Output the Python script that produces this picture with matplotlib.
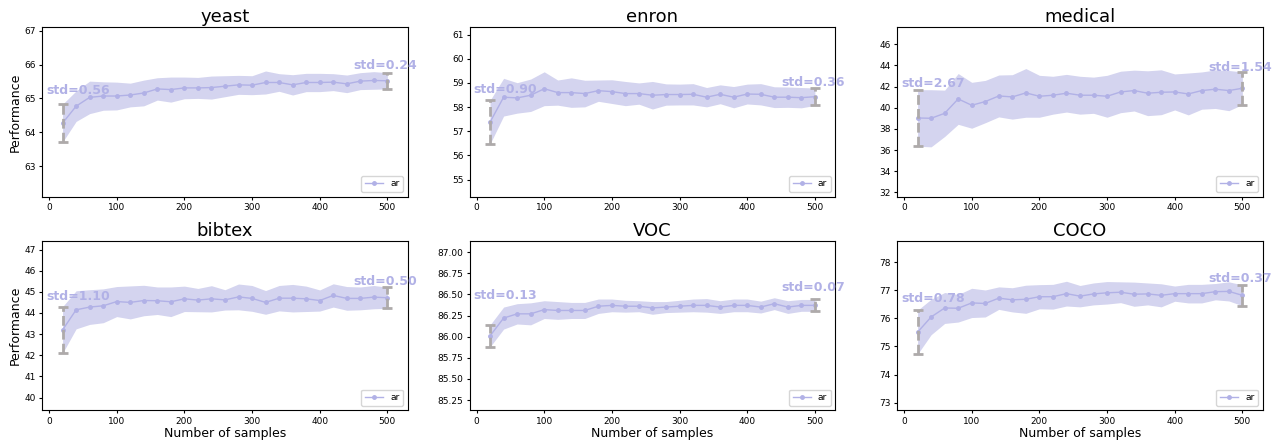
import numpy as np
import matplotlib
matplotlib.use("Agg")
import matplotlib.pyplot as plt

sample_sizes = [20, 40, 60, 80, 100, 120, 140, 160, 180, 200, 220, 240, 260,
                280, 300, 320, 340, 360, 380, 400, 420, 440, 460, 480, 500]

datasets = ["yeast", "enron", "medical", "bibtex", "VOC", "COCO"]

yeast_mean = [64.27, 64.77, 65.03, 65.07, 65.07, 65.10, 65.16, 65.28, 65.26, 65.31,
              65.31, 65.32, 65.36, 65.40, 65.39, 65.47, 65.47, 65.40, 65.47, 65.47,
              65.48, 65.43, 65.51, 65.53, 65.52]
yeast_std = [0.56, 0.45, 0.48, 0.42, 0.41, 0.35, 0.38, 0.33, 0.37, 0.32,
             0.31, 0.34, 0.31, 0.28, 0.28, 0.34, 0.26, 0.30, 0.27, 0.27,
             0.25, 0.26, 0.25, 0.26, 0.24]

enron_mean = [57.38, 58.41, 58.38, 58.49, 58.76, 58.60, 58.60, 58.56, 58.68, 58.64,
              58.56, 58.56, 58.49, 58.52, 58.52, 58.53, 58.41, 58.53, 58.41, 58.54,
              58.53, 58.41, 58.41, 58.39, 58.43]
enron_std = [0.90, 0.78, 0.63, 0.67, 0.70, 0.52, 0.61, 0.55, 0.44, 0.49,
             0.50, 0.44, 0.57, 0.44, 0.43, 0.44, 0.40, 0.39, 0.44, 0.41,
             0.44, 0.43, 0.42, 0.42, 0.36]

medical_mean = [39.03, 39.00, 39.47, 40.83, 40.23, 40.58, 41.11, 41.02, 41.40, 41.08,
                41.18, 41.37, 41.18, 41.18, 41.08, 41.49, 41.62, 41.37, 41.46, 41.49,
                41.30, 41.62, 41.75, 41.62, 41.84]
medical_std = [2.67, 2.70, 2.19, 2.40, 2.17, 2.00, 1.98, 2.10, 2.30, 1.98,
               1.79, 1.78, 1.79, 1.71, 1.98, 1.96, 1.93, 2.12, 2.12, 1.70,
               1.98, 1.76, 1.82, 1.90, 1.54]

bibtex_mean = [43.20, 44.15, 44.28, 44.34, 44.54, 44.50, 44.59, 44.58, 44.53, 44.67,
               44.61, 44.67, 44.62, 44.76, 44.69, 44.50, 44.70, 44.70, 44.67, 44.59,
               44.83, 44.69, 44.69, 44.75, 44.72]
bibtex_std = [1.10, 0.90, 0.82, 0.80, 0.71, 0.78, 0.72, 0.65, 0.70, 0.60,
              0.55, 0.62, 0.48, 0.61, 0.61, 0.56, 0.60, 0.65, 0.60, 0.50,
              0.55, 0.56, 0.54, 0.55, 0.50]

voc_mean = [86.01, 86.22, 86.27, 86.27, 86.32, 86.31, 86.31, 86.31, 86.36, 86.37,
            86.36, 86.36, 86.34, 86.35, 86.36, 86.37, 86.37, 86.35, 86.37, 86.37,
            86.35, 86.39, 86.35, 86.37, 86.37]
voc_std = [0.13, 0.13, 0.12, 0.13, 0.105, 0.105, 0.095, 0.095, 0.085, 0.075,
           0.07, 0.065, 0.075, 0.065, 0.07, 0.075, 0.08, 0.075, 0.075, 0.075,
           0.07, 0.07, 0.075, 0.07, 0.07]

coco_mean = [75.51, 76.05, 76.37, 76.36, 76.55, 76.53, 76.72, 76.66, 76.68, 76.77,
             76.77, 76.88, 76.79, 76.87, 76.91, 76.93, 76.86, 76.87, 76.82, 76.88,
             76.88, 76.88, 76.95, 76.96, 76.82]
coco_std = [0.78, 0.63, 0.55, 0.49, 0.52, 0.48, 0.40, 0.43, 0.50, 0.43,
            0.44, 0.44, 0.38, 0.39, 0.40, 0.37, 0.43, 0.39, 0.41, 0.27,
            0.33, 0.33, 0.29, 0.34, 0.37]

ylims = [(62.1, 67.1), (54.3, 61.3), (31.6, 47.6), (39.4, 47.4), (85.13, 87.13), (72.73, 78.75)]

means = [yeast_mean, enron_mean, medical_mean, bibtex_mean, voc_mean, coco_mean]
stds = [yeast_std, enron_std, medical_std, bibtex_std, voc_std, coco_std]

line_color = "#b1b1e6"
fill_color = "#d4d4ef"
err_color = "#aeaaaa"

fig, axes = plt.subplots(2, 3, figsize=(12.81, 4.42), dpi=100)
fig.subplots_adjust(left=0.033, right=0.9857, bottom=0.0717, top=0.9382,
                    wspace=0.170, hspace=0.263)

x = np.array(sample_sizes)
for i, ax in enumerate(axes.flat):
    m = np.array(means[i])
    s = np.array(stds[i])
    ax.fill_between(x, m - s, m + s, color=fill_color, lw=0, zorder=1)
    ax.plot(x, m, color=line_color, lw=1.0, marker="o", markersize=2.5,
            label="ar", zorder=3)
    for idx in (0, -1):
        eb = ax.errorbar([x[idx]], [m[idx]], yerr=[s[idx]], fmt="none",
                         ecolor=err_color, elinewidth=2, capsize=3.5,
                         capthick=2, zorder=4)
        eb[2][0].set_linestyle((0, (3.5, 1.5)))
    ax.text(-4, m[0] + s[0] + 0.3, f"std={s[0]:.2f}", color=line_color,
            fontsize=9, fontweight="bold", ha="left", va="baseline", zorder=5)
    ax.text(450, m[-1] + s[-1] + 0.1, f"std={s[-1]:.2f}", color=line_color,
            fontsize=9, fontweight="bold", ha="left", va="baseline", zorder=5)
    ax.set_xlim(-10, 530)
    ax.set_ylim(*ylims[i])
    ax.set_title(datasets[i], fontsize=13, pad=4)
    ax.tick_params(labelsize=6.5, length=2.5, pad=2)
    ax.legend(loc="lower right", fontsize=6.5)
    if i % 3 == 0:
        ax.set_ylabel("Performance", fontsize=9, labelpad=2)
    if i >= 3:
        ax.set_xlabel("Number of samples", fontsize=9, labelpad=1)

fig.savefig("out.png", dpi=100)
